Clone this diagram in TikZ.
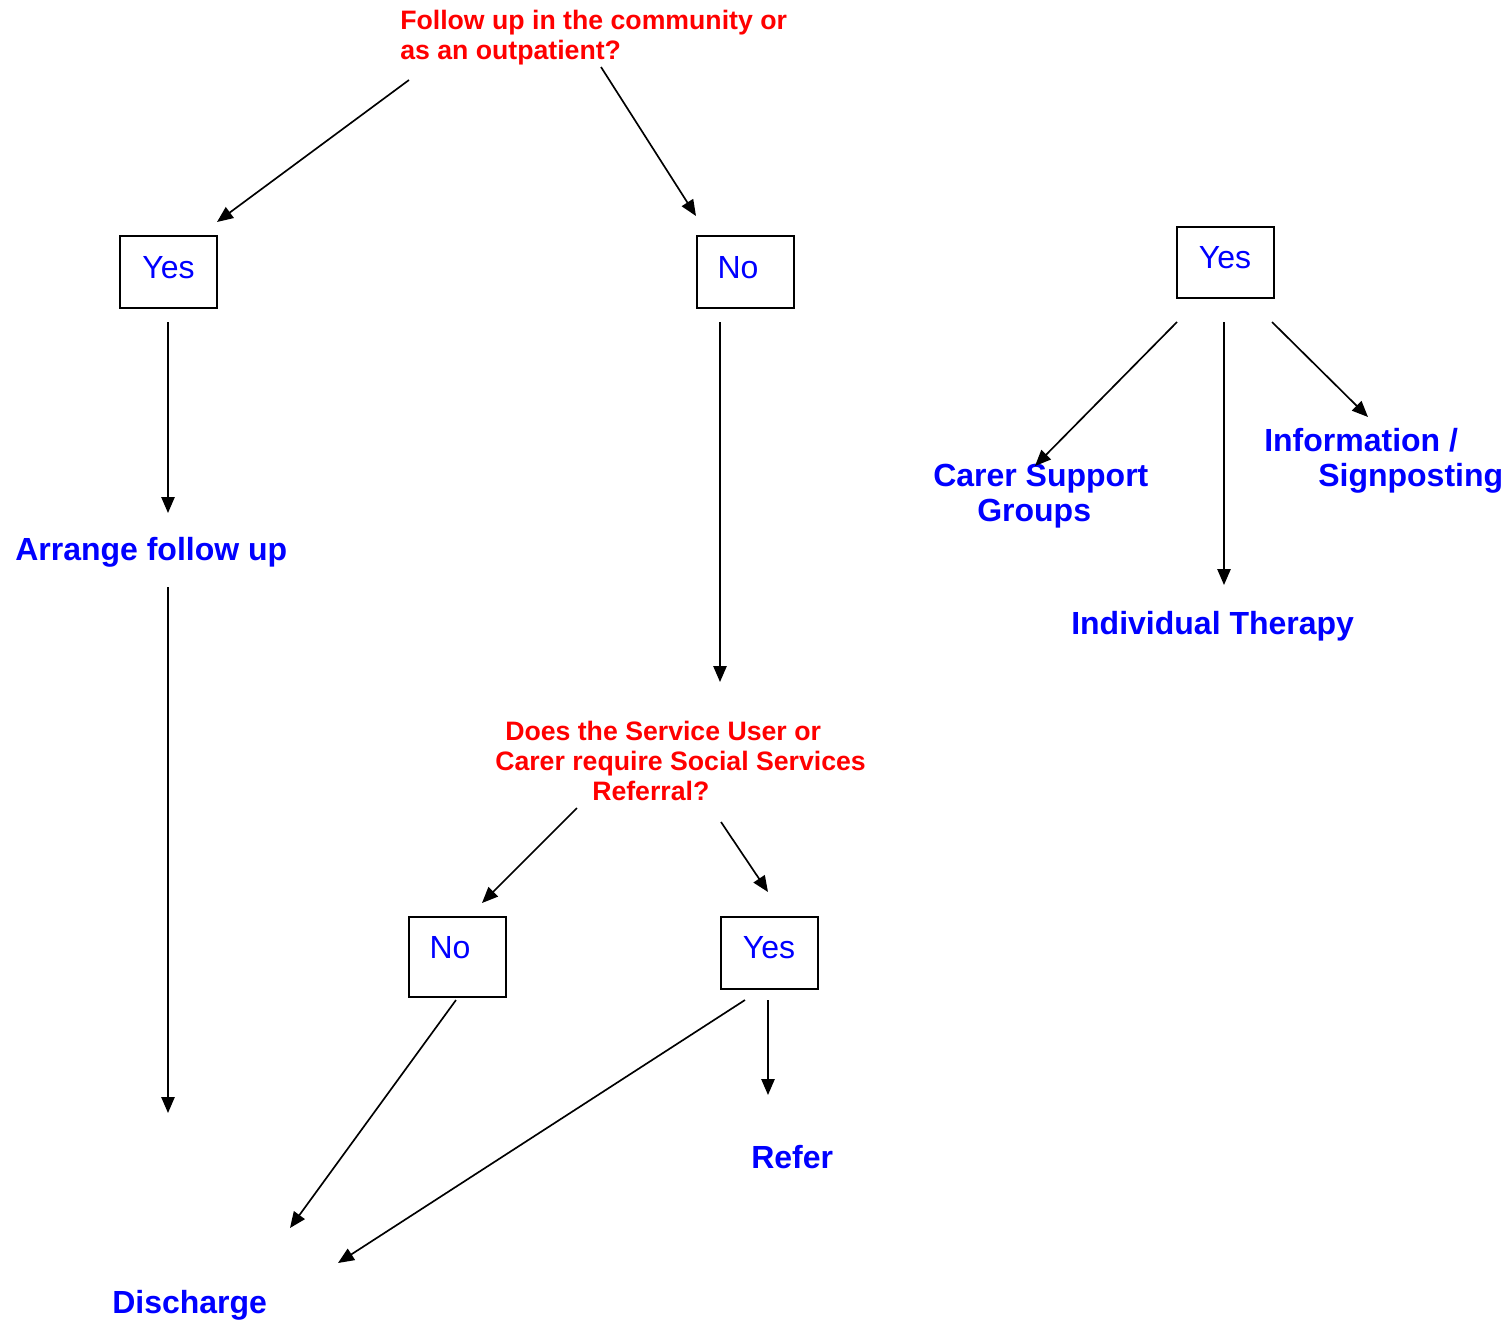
\documentclass[tikz,border=0pt]{standalone}
\usepackage{fontspec}
\setmainfont{Liberation Sans}
\usetikzlibrary{arrows.meta}
\definecolor{qred}{RGB}{255,0,0}
\definecolor{qblue}{RGB}{0,0,255}
\tikzset{
  arr/.style={line width=1.25pt, -{Triangle[length=12pt,width=10pt]}},
  qtext/.style={text=qred, font=\fontsize{20}{22.5}\selectfont\bfseries, inner sep=0pt, anchor=base west, align=left},
  otext/.style={text=qblue, font=\fontsize{24}{26.25}\selectfont\bfseries, inner sep=0pt, anchor=base west, align=left},
  abox/.style={draw, line width=1.5pt, inner sep=0pt, minimum width=72.75pt, text=qblue,
     font=\fontsize{24}{28}\selectfont, text height=18pt}
}
\begin{document}
\begin{tikzpicture}[x=0.75pt, y=-0.75pt]
\useasboundingbox[fill=white] (0,0) rectangle (1511,1325);
% questions (base anchor = baseline of last line)
\node[qtext] (q1) at (400,59) {Follow up in the community or\\as an outpatient?};
\node[qtext] (q2) at (495,800) {\hspace*{7.5pt}Does the Service User or\\Carer require Social Services\\\hspace*{72.75pt}Referral?};
% boxes
\node[abox, minimum height=54pt, text depth=9pt] (yes1) at (168.5,272) {Yes};
\node[abox, minimum height=54pt, text depth=9pt] (no1) at (745,272) {No\hspace*{10.5pt}};
\node[abox, minimum height=53.25pt, text depth=9.75pt] (yes3) at (1225,262.5) {Yes};
\node[abox, minimum height=60pt, text depth=16.5pt] (no2) at (457,957) {No\hspace*{10.5pt}};
\node[abox, minimum height=54pt, text depth=10.5pt] (yes2) at (769,953) {Yes};
% outcomes
\node[otext] (arrange) at (15,560) {Arrange follow up};
\node[otext] (discharge) at (112,1313) {Discharge};
\node[otext] (refer) at (751,1168) {Refer};
\node[otext] (carer) at (933,521) {Carer Support\\\hspace*{33pt}Groups};
\node[otext] (info) at (1264,486) {Information /\\\hspace*{40.5pt}Signposting};
\node[otext] (indiv) at (1071,634) {Individual Therapy};
% connector end points
\coordinate (a1s) at (409,80);   \coordinate (a1e) at (217,222);
\coordinate (a2s) at (601,67);   \coordinate (a2e) at (696,216);
\coordinate (a3s) at (168,322);  \coordinate (a3e) at (168,513);
\coordinate (a4s) at (168,587);  \coordinate (a4e) at (168,1113);
\coordinate (a5s) at (720,322);  \coordinate (a5e) at (720,682);
\coordinate (a6s) at (577,808);  \coordinate (a6e) at (482,903);
\coordinate (a7s) at (721,822);  \coordinate (a7e) at (768,892);
\coordinate (a8s) at (456,1000); \coordinate (a8e) at (290,1228);
\coordinate (a9s) at (745,1000); \coordinate (a9e) at (338,1263);
\coordinate (a10s) at (768,1000); \coordinate (a10e) at (768,1095);
\coordinate (a11s) at (1177,322); \coordinate (a11e) at (1035,466);
\coordinate (a12s) at (1224,322); \coordinate (a12e) at (1224,585);
\coordinate (a13s) at (1272,322); \coordinate (a13e) at (1368,417);
\foreach \i in {1,...,13} { \draw[arr] (a\i s) -- (a\i e); }
\end{tikzpicture}
\end{document}
